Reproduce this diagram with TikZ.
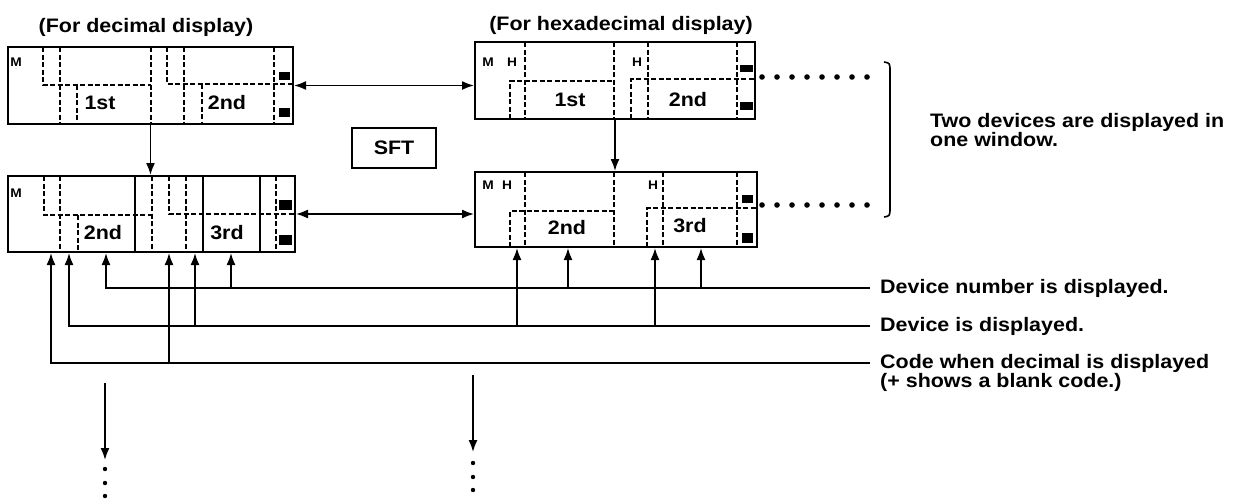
\documentclass[tikz,border=0pt]{standalone}
\usepackage{fontspec}
\setmainfont{Liberation Sans}[FakeStretch=1.1]
\usetikzlibrary{arrows.meta,positioning}

\begin{document}
\begin{tikzpicture}[
  x=1pt, y=-1pt,
  panel/.style={draw,line width=2pt,inner sep=0pt},
  sep/.style={line width=1.4pt,dash pattern=on 5pt off 2.5pt},
  wall/.style={line width=1.6pt},
  lamp/.style={fill=black},
  tag/.style={font=\fontsize{12.5}{13}\selectfont\bfseries,inner sep=0pt},
  txt/.style={font=\fontsize{19.5}{19}\selectfont\bfseries,inner sep=0pt},
  lbl/.style={txt,anchor=west,align=left,inner xsep=10pt},
  arrow/.style={-{Latex[length=12pt,width=9pt]},line width=1.7pt},
  twoway/.style={{Latex[length=12pt,width=9pt]}-{Latex[length=12pt,width=9pt]},line width=1.7pt}
]
\useasboundingbox (0,0) rectangle (1246,498);

\node[txt] (dectitle) at (146,27) {(For decimal display)};
\node[txt] (hextitle) at (621,25) {(For hexadecimal display)};

\node[panel,minimum width=285pt,minimum height=77pt] (dec1) at (150.5,85.5) {};
\node[panel,minimum width=287pt,minimum height=76pt] (dec2) at (151.5,214) {};
\node[panel,minimum width=280pt,minimum height=77pt] (hex1) at (615,80.5) {};
\node[panel,minimum width=282pt,minimum height=75pt] (hex2) at (616,209.5) {};
\node[txt,draw,line width=1.6pt,minimum width=84pt,minimum height=40pt] (shift) at (394,148) {SFT};

\draw[sep] (43,47) -- (43,85) -- (151,85);
\draw[sep] (60,47) -- (60,124);
\draw[sep] (77,85) -- (77,124);
\draw[sep] (151,47) -- (151,124);
\draw[sep] (167,47) -- (167,84) -- (293,84);
\draw[sep] (184,47) -- (184,124);
\draw[sep] (202,84) -- (202,124);
\draw[sep] (274,47) -- (274,124);
\fill[lamp] (279,72) rectangle (290,80);
\fill[lamp] (279,108) rectangle (290,117);
\node[tag] (dm1) at (16,62) {M};
\node[txt] (d1st) at (100,103) {1st};
\node[txt] (d2nd) at (227,103) {2nd};

\draw[sep] (44,176) -- (44,215) -- (152,215);
\draw[sep] (60,176) -- (60,252);
\draw[sep] (78,215) -- (78,252);
\draw[wall] (135,176) -- (135,252);
\draw[sep] (152,176) -- (152,252);
\draw[sep] (169,176) -- (169,214) -- (295,214);
\draw[sep] (186,176) -- (186,252);
\draw[wall] (203,176) -- (203,252);
\draw[wall] (260,176) -- (260,252);
\draw[sep] (276,176) -- (276,252);
\fill[lamp] (279,200) rectangle (292,210);
\fill[lamp] (279,235) rectangle (292,245);
\node[tag] (dm2) at (16,193) {M};
\node[txt] (d2nd2) at (103,233) {2nd};
\node[txt] (d3rd) at (227,233) {3rd};

\draw[sep] (510,119) -- (510,81) -- (614,81);
\draw[sep] (525,42) -- (525,119);
\draw[sep] (614,42) -- (614,119);
\draw[sep] (631,119) -- (631,79) -- (755,79);
\draw[sep] (648,42) -- (648,119);
\draw[sep] (737,42) -- (737,119);
\fill[lamp] (740,65) rectangle (753,72);
\fill[lamp] (740,102) rectangle (753,110);
\node[tag] (hm1) at (488,62) {M};
\node[tag] (hh1) at (512,62) {H};
\node[tag] (hh2) at (637,62) {H};
\node[txt] (h1st) at (570,100) {1st};
\node[txt] (h2nd) at (688,100) {2nd};

\draw[sep] (510,247) -- (510,211) -- (614,211);
\draw[sep] (525,172) -- (525,247);
\draw[sep] (614,172) -- (614,247);
\draw[sep] (647,247) -- (647,208) -- (757,208);
\draw[sep] (663,172) -- (663,247);
\draw[sep] (737,172) -- (737,247);
\fill[lamp] (742,195) rectangle (753,203);
\fill[lamp] (742,233) rectangle (753,243);
\node[tag] (hm2) at (488,185) {M};
\node[tag] (hh3) at (507,185) {H};
\node[tag] (hh4) at (653,185) {H};
\node[txt] (h2nd2) at (567,228) {2nd};
\node[txt] (h3rd) at (690,226) {3rd};

\foreach \i in {0,...,7} {
  \fill (762+15*\i,77) circle (2.8pt);
  \fill (762+15*\i,205) circle (2.8pt);
}
\draw[wall] (884,62) .. controls (890,63) .. (890,72) -- (890,207) .. controls (890,216) .. (884,217);
\node[lbl,inner xsep=0pt] (note) at (930,130) {Two devices are displayed in\\one window.};

\node[lbl] (lblnum) at (870,288) {Device number is displayed.};
\node[lbl] (lbldev) at (870,326) {Device is displayed.};
\node[lbl] (lblcode) at (870,363) {Code when decimal is displayed};
\node[lbl] (lblblank) at (870,382) {(+ shows a blank code.)};

\coordinate (dcode1) at ([xshift=44pt]dec2.south west);
\coordinate (ddev1) at ([xshift=62pt]dec2.south west);
\coordinate (dnum1) at ([xshift=99pt]dec2.south west);
\coordinate (dcode2) at ([xshift=162pt]dec2.south west);
\coordinate (ddev2) at ([xshift=188pt]dec2.south west);
\coordinate (dnum2) at ([xshift=224pt]dec2.south west);
\coordinate (hdev1) at ([xshift=43pt]hex2.south west);
\coordinate (hnum1) at ([xshift=94pt]hex2.south west);
\coordinate (hdev2) at ([xshift=181pt]hex2.south west);
\coordinate (hnum2) at ([xshift=227pt]hex2.south west);

\draw[twoway] (dec1.east) -- (dec1.east -| hex1.west);
\draw[twoway] (dec2.east) -- (dec2.east -| hex2.west);
\draw[arrow] (dec1.south) -- (dec1.south |- dec2.north);
\draw[arrow] (hex1.south) -- (hex1.south |- hex2.north);

\draw[arrow] (lblnum.west) -| (dnum1);
\draw[arrow] (dnum2 |- lblnum.west) -- (dnum2);
\draw[arrow] (hnum1 |- lblnum.west) -- (hnum1);
\draw[arrow] (hnum2 |- lblnum.west) -- (hnum2);
\draw[arrow] (lbldev.west) -| (ddev1);
\draw[arrow] (ddev2 |- lbldev.west) -- (ddev2);
\draw[arrow] (hdev1 |- lbldev.west) -- (hdev1);
\draw[arrow] (hdev2 |- lbldev.west) -- (hdev2);
\draw[arrow] (lblcode.west) -| (dcode1);
\draw[arrow] (dcode2 |- lblcode.west) -- (dcode2);

\coordinate (decmore) at (105,383);
\coordinate (decend) at (105,460);
\coordinate (hexmore) at (473,375);
\coordinate (hexend) at (473,452);
\draw[arrow] (decmore) -- (decend);
\draw[arrow] (hexmore) -- (hexend);
\foreach \y in {469,483,496} \fill (105,\y) circle (2.2pt);
\foreach \y in {463,477,490} \fill (473,\y) circle (2.2pt);
\end{tikzpicture}
\end{document}
